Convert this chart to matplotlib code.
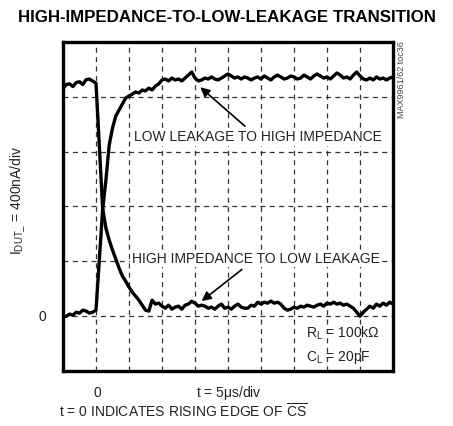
import matplotlib.pyplot as plt
import numpy as np
from matplotlib import font_manager

# time axis: 5 us/div, t = 0 on the first vertical grid line
t = np.arange(-5, 45.01, 0.5)

# trace starting high and settling near zero (nA)
hi_to_lo = [1660, 1690, 1695, 1675, 1705, 1710, 1690, 1725, 1730, 1715, 1700,
            1248, 788, 642, 555, 482, 416, 350, 292, 255, 212,
            175, 146, 117, 80, 44, 37, 117, 88, 95, 73,
            58, 80, 51, 66, 73, 51, 80, 88, 109, 95,
            73, 80, 73, 58, 66, 51, 73, 88, 58, 66,
            51, 73, 88, 66, 58, 58, 80, 73, 102, 88,
            102, 95, 110, 95, 102, 88, 58, 44, 51, 66,
            58, 73, 66, 80, 73, 66, 80, 88, 73, 95,
            88, 102, 88, 95, 80, 88, 73, 58, 29, 0,
            29, 51, 73, 58, 88, 73, 95, 80, 102, 88]

# trace starting near zero and settling high (nA)
lo_to_hi = [-7, 0, 15, 7, 29, 22, 44, 37, 22, 29, 44,
            409, 774, 993, 1248, 1372, 1460, 1504, 1548, 1591, 1606,
            1620, 1635, 1628, 1650, 1643, 1664, 1650, 1679, 1694, 1723,
            1730, 1716, 1737, 1723, 1730, 1716, 1737, 1759, 1781, 1737,
            1716, 1723, 1737, 1730, 1745, 1730, 1723, 1737, 1752, 1767,
            1752, 1737, 1745, 1730, 1745, 1737, 1723, 1737, 1745, 1730,
            1752, 1737, 1723, 1745, 1759, 1745, 1730, 1737, 1752, 1745,
            1730, 1737, 1759, 1745, 1730, 1752, 1767, 1752, 1737, 1745,
            1730, 1752, 1774, 1759, 1737, 1745, 1730, 1759, 1781, 1752,
            1730, 1723, 1737, 1723, 1745, 1730, 1737, 1723, 1737, 1745]

names = {f.name for f in font_manager.fontManager.ttflist}
narrow = 'Liberation Sans Narrow' if 'Liberation Sans Narrow' in names else 'Liberation Sans'
plt.rcParams['font.family'] = [narrow, 'DejaVu Sans']
plt.rcParams['mathtext.fontset'] = 'custom'
plt.rcParams['mathtext.rm'] = narrow
plt.rcParams['mathtext.it'] = narrow

fig = plt.figure(figsize=(4.53, 4.26), dpi=100)
ax = fig.add_axes([63/453, 55/426, 330/453, 329/426])

ax.plot(t, hi_to_lo, color='black', lw=2.4, solid_joinstyle='round', zorder=3)
ax.plot(t, lo_to_hi, color='black', lw=2.4, solid_joinstyle='round', zorder=3)

ax.set_xlim(-5, 45)
ax.set_ylim(-400, 2000)
ax.set_xticks(np.arange(0, 45, 5))
ax.set_yticks(np.arange(0, 2000, 400))
ax.tick_params(length=0, labelbottom=False, labelleft=False)
ax.grid(True, color='#333333', lw=0.9, ls=(0, (4, 3.5)))
for s in ax.spines.values():
    s.set_linewidth(2.4)

txt = '#222222'
fs = 10
fig.text(0.5, 1 - 17/426, 'HIGH-IMPEDANCE-TO-LOW-LEAKAGE TRANSITION', ha='center', va='center',
         fontsize=12.2, fontweight='bold', color='black')

box = dict(facecolor='white', edgecolor='none', pad=1.0)
ax.annotate('LOW LEAKAGE TO HIGH IMPEDANCE', xy=(15.8, 1670), xytext=(24.5, 1305),
            ha='center', va='center', fontsize=fs, color=txt, bbox=box, zorder=4,
            arrowprops=dict(arrowstyle='-|>', color='black', lw=1.2, mutation_scale=14,
                            shrinkA=3, shrinkB=0))
ax.annotate('HIGH IMPEDANCE TO LOW LEAKAGE', xy=(16.0, 110), xytext=(24.2, 420),
            ha='center', va='center', fontsize=fs, color=txt, bbox=box, zorder=4,
            arrowprops=dict(arrowstyle='-|>', color='black', lw=1.2, mutation_scale=14,
                            shrinkA=3, shrinkB=0))

ax.text(31.8, -125, r'R$_\mathrm{L}$ = 100k$\Omega$', fontsize=fs, color=txt, va='center')
ax.text(31.8, -300, r'C$_\mathrm{L}$ = 20pF', fontsize=fs, color=txt, va='center')

fig.text(402/453, 1 - 80/426, 'MAX9961/62 toc36', rotation=90, ha='center', va='center',
         fontsize=6.5, color='#444444')

fig.text(42/453, 1 - 317/426, '0', ha='center', va='center', fontsize=fs, color=txt)
fig.text(18/453, 1 - 200/426, r'I$_\mathrm{DUT\_}$ = 400nA/div', rotation=90, ha='center',
         va='center', fontsize=fs, color=txt)

fig.text(97/453, 1 - 393/426, '0', ha='center', va='center', fontsize=fs, color=txt)
fig.text(229/453, 1 - 393/426, r't = 5$\mathrm{\mu}$s/div', ha='center', va='center',
         fontsize=fs, color=txt)
fig.text(183/453, 1 - 411/426, r't = 0 INDICATES RISING EDGE OF $\overline{\mathrm{CS}}$',
         ha='center', va='center', fontsize=fs, color=txt)

fig.savefig('out.png', dpi=100)
